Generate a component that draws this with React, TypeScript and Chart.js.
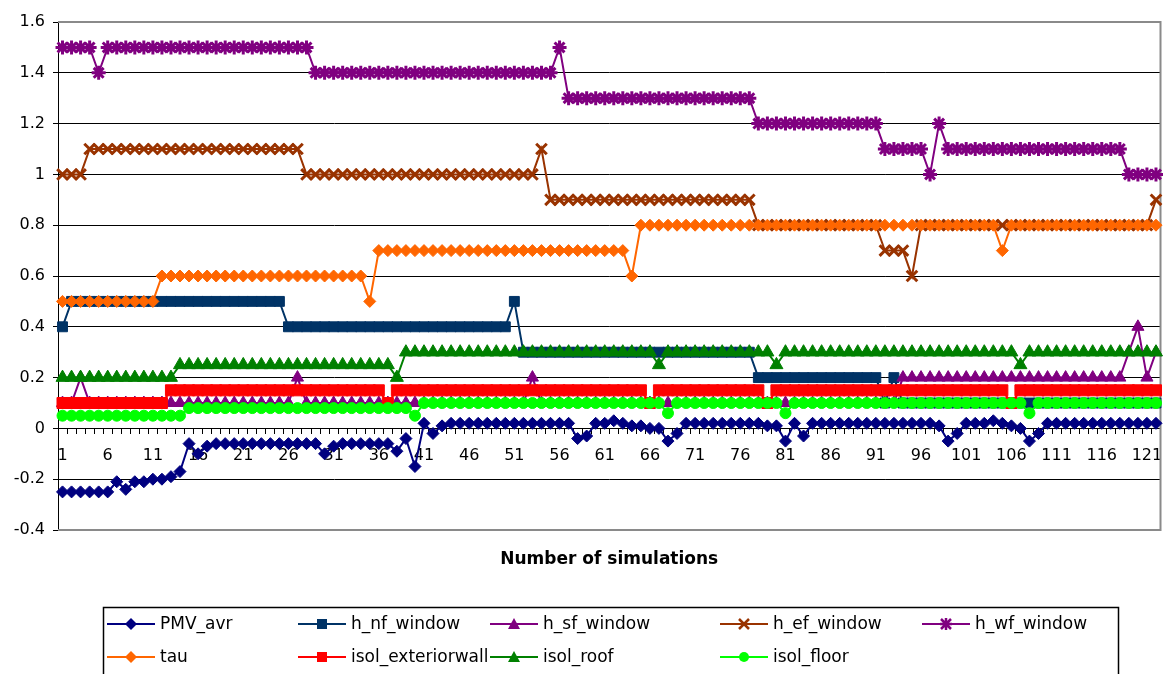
import React, { useEffect, useRef } from 'react';
import { Chart, registerables } from 'chart.js';

Chart.register(...registerables);

// ---------- data ----------
const categories: string[] = Array.from({ length: 122 }, (_, i) => String(i + 1));
const tickLabels: string[] = ['1', '6', '11', '16', '21', '26', '31', '36', '41', '46', '51', '56', '61', '66', '71', '76', '81', '86', '91', '96', '101', '106', '111', '116', '121'];
const yTicks: number[] = [-0.4, -0.2, 0, 0.2, 0.4, 0.6, 0.8, 1, 1.2, 1.4, 1.6];

const PMV_avr: number[] = [
  -0.25, -0.25, -0.25, -0.25, -0.25, -0.25, -0.21, -0.24, -0.21, -0.21,
  -0.2, -0.2, -0.19, -0.17, -0.06, -0.1, -0.07, -0.06, -0.06, -0.06,
  -0.06, -0.06, -0.06, -0.06, -0.06, -0.06, -0.06, -0.06, -0.06, -0.1,
  -0.07, -0.06, -0.06, -0.06, -0.06, -0.06, -0.06, -0.09, -0.04, -0.15,
  0.02, -0.02, 0.01, 0.02, 0.02, 0.02, 0.02, 0.02, 0.02, 0.02,
  0.02, 0.02, 0.02, 0.02, 0.02, 0.02, 0.02, -0.04, -0.03, 0.02,
  0.02, 0.03, 0.02, 0.01, 0.01, 0, 0, -0.05, -0.02, 0.02,
  0.02, 0.02, 0.02, 0.02, 0.02, 0.02, 0.02, 0.02, 0.01, 0.01,
  -0.05, 0.02, -0.03, 0.02, 0.02, 0.02, 0.02, 0.02, 0.02, 0.02,
  0.02, 0.02, 0.02, 0.02, 0.02, 0.02, 0.02, 0.01, -0.05, -0.02,
  0.02, 0.02, 0.02, 0.03, 0.02, 0.01, 0, -0.05, -0.02, 0.02,
  0.02, 0.02, 0.02, 0.02, 0.02, 0.02, 0.02, 0.02, 0.02, 0.02,
  0.02, 0.02,
];

const h_nf_window: number[] = [
  0.4, 0.5, 0.5, 0.5, 0.5, 0.5, 0.5, 0.5, 0.5, 0.5,
  0.5, 0.5, 0.5, 0.5, 0.5, 0.5, 0.5, 0.5, 0.5, 0.5,
  0.5, 0.5, 0.5, 0.5, 0.5, 0.4, 0.4, 0.4, 0.4, 0.4,
  0.4, 0.4, 0.4, 0.4, 0.4, 0.4, 0.4, 0.4, 0.4, 0.4,
  0.4, 0.4, 0.4, 0.4, 0.4, 0.4, 0.4, 0.4, 0.4, 0.4,
  0.5, 0.3, 0.3, 0.3, 0.3, 0.3, 0.3, 0.3, 0.3, 0.3,
  0.3, 0.3, 0.3, 0.3, 0.3, 0.3, 0.3, 0.3, 0.3, 0.3,
  0.3, 0.3, 0.3, 0.3, 0.3, 0.3, 0.3, 0.2, 0.2, 0.2,
  0.2, 0.2, 0.2, 0.2, 0.2, 0.2, 0.2, 0.2, 0.2, 0.2,
  0.2, 0.1, 0.2, 0.1, 0.1, 0.1, 0.1, 0.1, 0.1, 0.1,
  0.1, 0.1, 0.1, 0.1, 0.1, 0.1, 0.1, 0.1, 0.1, 0.1,
  0.1, 0.1, 0.1, 0.1, 0.1, 0.1, 0.1, 0.1, 0.1, 0.1,
  0.1, 0.1,
];

const h_sf_window: number[] = [
  0.1, 0.1, 0.2, 0.1, 0.1, 0.1, 0.1, 0.1, 0.1, 0.1,
  0.1, 0.1, 0.1, 0.1, 0.1, 0.1, 0.1, 0.1, 0.1, 0.1,
  0.1, 0.1, 0.1, 0.1, 0.1, 0.1, 0.2, 0.1, 0.1, 0.1,
  0.1, 0.1, 0.1, 0.1, 0.1, 0.1, 0.1, 0.1, 0.1, 0.1,
  0.1, 0.1, 0.1, 0.1, 0.1, 0.1, 0.1, 0.1, 0.1, 0.1,
  0.1, 0.1, 0.2, 0.1, 0.1, 0.1, 0.1, 0.1, 0.1, 0.1,
  0.1, 0.1, 0.1, 0.1, 0.1, 0.1, 0.1, 0.1, 0.1, 0.1,
  0.1, 0.1, 0.1, 0.1, 0.1, 0.1, 0.1, 0.1, 0.1, 0.1,
  0.1, 0.1, 0.1, 0.1, 0.1, 0.1, 0.1, 0.1, 0.1, 0.1,
  0.1, 0.1, 0.1, 0.2, 0.2, 0.2, 0.2, 0.2, 0.2, 0.2,
  0.2, 0.2, 0.2, 0.2, 0.2, 0.2, 0.2, 0.2, 0.2, 0.2,
  0.2, 0.2, 0.2, 0.2, 0.2, 0.2, 0.2, 0.2, 0.3, 0.4,
  0.2, 0.3,
];

const h_ef_window: number[] = [
  1, 1, 1, 1.1, 1.1, 1.1, 1.1, 1.1, 1.1, 1.1,
  1.1, 1.1, 1.1, 1.1, 1.1, 1.1, 1.1, 1.1, 1.1, 1.1,
  1.1, 1.1, 1.1, 1.1, 1.1, 1.1, 1.1, 1, 1, 1,
  1, 1, 1, 1, 1, 1, 1, 1, 1, 1,
  1, 1, 1, 1, 1, 1, 1, 1, 1, 1,
  1, 1, 1, 1.1, 0.9, 0.9, 0.9, 0.9, 0.9, 0.9,
  0.9, 0.9, 0.9, 0.9, 0.9, 0.9, 0.9, 0.9, 0.9, 0.9,
  0.9, 0.9, 0.9, 0.9, 0.9, 0.9, 0.9, 0.8, 0.8, 0.8,
  0.8, 0.8, 0.8, 0.8, 0.8, 0.8, 0.8, 0.8, 0.8, 0.8,
  0.8, 0.7, 0.7, 0.7, 0.6, 0.8, 0.8, 0.8, 0.8, 0.8,
  0.8, 0.8, 0.8, 0.8, 0.8, 0.8, 0.8, 0.8, 0.8, 0.8,
  0.8, 0.8, 0.8, 0.8, 0.8, 0.8, 0.8, 0.8, 0.8, 0.8,
  0.8, 0.9,
];

const h_wf_window: number[] = [
  1.5, 1.5, 1.5, 1.5, 1.4, 1.5, 1.5, 1.5, 1.5, 1.5,
  1.5, 1.5, 1.5, 1.5, 1.5, 1.5, 1.5, 1.5, 1.5, 1.5,
  1.5, 1.5, 1.5, 1.5, 1.5, 1.5, 1.5, 1.5, 1.4, 1.4,
  1.4, 1.4, 1.4, 1.4, 1.4, 1.4, 1.4, 1.4, 1.4, 1.4,
  1.4, 1.4, 1.4, 1.4, 1.4, 1.4, 1.4, 1.4, 1.4, 1.4,
  1.4, 1.4, 1.4, 1.4, 1.4, 1.5, 1.3, 1.3, 1.3, 1.3,
  1.3, 1.3, 1.3, 1.3, 1.3, 1.3, 1.3, 1.3, 1.3, 1.3,
  1.3, 1.3, 1.3, 1.3, 1.3, 1.3, 1.3, 1.2, 1.2, 1.2,
  1.2, 1.2, 1.2, 1.2, 1.2, 1.2, 1.2, 1.2, 1.2, 1.2,
  1.2, 1.1, 1.1, 1.1, 1.1, 1.1, 1.0, 1.2, 1.1, 1.1,
  1.1, 1.1, 1.1, 1.1, 1.1, 1.1, 1.1, 1.1, 1.1, 1.1,
  1.1, 1.1, 1.1, 1.1, 1.1, 1.1, 1.1, 1.1, 1.0, 1.0,
  1.0, 1.0,
];

const tau: number[] = [
  0.5, 0.5, 0.5, 0.5, 0.5, 0.5, 0.5, 0.5, 0.5, 0.5,
  0.5, 0.6, 0.6, 0.6, 0.6, 0.6, 0.6, 0.6, 0.6, 0.6,
  0.6, 0.6, 0.6, 0.6, 0.6, 0.6, 0.6, 0.6, 0.6, 0.6,
  0.6, 0.6, 0.6, 0.6, 0.5, 0.7, 0.7, 0.7, 0.7, 0.7,
  0.7, 0.7, 0.7, 0.7, 0.7, 0.7, 0.7, 0.7, 0.7, 0.7,
  0.7, 0.7, 0.7, 0.7, 0.7, 0.7, 0.7, 0.7, 0.7, 0.7,
  0.7, 0.7, 0.7, 0.6, 0.8, 0.8, 0.8, 0.8, 0.8, 0.8,
  0.8, 0.8, 0.8, 0.8, 0.8, 0.8, 0.8, 0.8, 0.8, 0.8,
  0.8, 0.8, 0.8, 0.8, 0.8, 0.8, 0.8, 0.8, 0.8, 0.8,
  0.8, 0.8, 0.8, 0.8, 0.8, 0.8, 0.8, 0.8, 0.8, 0.8,
  0.8, 0.8, 0.8, 0.8, 0.7, 0.8, 0.8, 0.8, 0.8, 0.8,
  0.8, 0.8, 0.8, 0.8, 0.8, 0.8, 0.8, 0.8, 0.8, 0.8,
  0.8, 0.8,
];

const isol_exteriorwall: number[] = [
  0.1, 0.1, 0.1, 0.1, 0.1, 0.1, 0.1, 0.1, 0.1, 0.1,
  0.1, 0.1, 0.15, 0.15, 0.15, 0.15, 0.15, 0.15, 0.15, 0.15,
  0.15, 0.15, 0.15, 0.15, 0.15, 0.15, 0.15, 0.15, 0.15, 0.15,
  0.15, 0.15, 0.15, 0.15, 0.15, 0.15, 0.1, 0.15, 0.15, 0.15,
  0.15, 0.15, 0.15, 0.15, 0.15, 0.15, 0.15, 0.15, 0.15, 0.15,
  0.15, 0.15, 0.15, 0.15, 0.15, 0.15, 0.15, 0.15, 0.15, 0.15,
  0.15, 0.15, 0.15, 0.15, 0.15, 0.1, 0.15, 0.15, 0.15, 0.15,
  0.15, 0.15, 0.15, 0.15, 0.15, 0.15, 0.15, 0.15, 0.1, 0.15,
  0.15, 0.15, 0.15, 0.15, 0.15, 0.15, 0.15, 0.15, 0.15, 0.15,
  0.15, 0.15, 0.15, 0.15, 0.15, 0.15, 0.15, 0.15, 0.15, 0.15,
  0.15, 0.15, 0.15, 0.15, 0.15, 0.1, 0.15, 0.15, 0.15, 0.15,
  0.15, 0.15, 0.15, 0.15, 0.15, 0.15, 0.15, 0.15, 0.15, 0.15,
  0.15, 0.15,
];

const isol_roof: number[] = [
  0.2, 0.2, 0.2, 0.2, 0.2, 0.2, 0.2, 0.2, 0.2, 0.2,
  0.2, 0.2, 0.2, 0.25, 0.25, 0.25, 0.25, 0.25, 0.25, 0.25,
  0.25, 0.25, 0.25, 0.25, 0.25, 0.25, 0.25, 0.25, 0.25, 0.25,
  0.25, 0.25, 0.25, 0.25, 0.25, 0.25, 0.25, 0.2, 0.3, 0.3,
  0.3, 0.3, 0.3, 0.3, 0.3, 0.3, 0.3, 0.3, 0.3, 0.3,
  0.3, 0.3, 0.3, 0.3, 0.3, 0.3, 0.3, 0.3, 0.3, 0.3,
  0.3, 0.3, 0.3, 0.3, 0.3, 0.3, 0.25, 0.3, 0.3, 0.3,
  0.3, 0.3, 0.3, 0.3, 0.3, 0.3, 0.3, 0.3, 0.3, 0.25,
  0.3, 0.3, 0.3, 0.3, 0.3, 0.3, 0.3, 0.3, 0.3, 0.3,
  0.3, 0.3, 0.3, 0.3, 0.3, 0.3, 0.3, 0.3, 0.3, 0.3,
  0.3, 0.3, 0.3, 0.3, 0.3, 0.3, 0.25, 0.3, 0.3, 0.3,
  0.3, 0.3, 0.3, 0.3, 0.3, 0.3, 0.3, 0.3, 0.3, 0.3,
  0.3, 0.3,
];

const isol_floor: number[] = [
  0.05, 0.05, 0.05, 0.05, 0.05, 0.05, 0.05, 0.05, 0.05, 0.05,
  0.05, 0.05, 0.05, 0.05, 0.08, 0.08, 0.08, 0.08, 0.08, 0.08,
  0.08, 0.08, 0.08, 0.08, 0.08, 0.08, 0.08, 0.08, 0.08, 0.08,
  0.08, 0.08, 0.08, 0.08, 0.08, 0.08, 0.08, 0.08, 0.08, 0.05,
  0.1, 0.1, 0.1, 0.1, 0.1, 0.1, 0.1, 0.1, 0.1, 0.1,
  0.1, 0.1, 0.1, 0.1, 0.1, 0.1, 0.1, 0.1, 0.1, 0.1,
  0.1, 0.1, 0.1, 0.1, 0.1, 0.1, 0.1, 0.06, 0.1, 0.1,
  0.1, 0.1, 0.1, 0.1, 0.1, 0.1, 0.1, 0.1, 0.1, 0.1,
  0.06, 0.1, 0.1, 0.1, 0.1, 0.1, 0.1, 0.1, 0.1, 0.1,
  0.1, 0.1, 0.1, 0.1, 0.1, 0.1, 0.1, 0.1, 0.1, 0.1,
  0.1, 0.1, 0.1, 0.1, 0.1, 0.1, 0.1, 0.06, 0.1, 0.1,
  0.1, 0.1, 0.1, 0.1, 0.1, 0.1, 0.1, 0.1, 0.1, 0.1,
  0.1, 0.1,
];

const seriesNames: string[] = ['PMV_avr', 'h_nf_window', 'h_sf_window', 'h_ef_window', 'h_wf_window', 'tau', 'isol_exteriorwall', 'isol_roof', 'isol_floor'];
const seriesColors: string[] = ['#000080', '#003366', '#800080', '#993300', '#800080', '#FF6600', '#FF0000', '#008000', '#00FF00'];
const seriesMarkers: string[] = ['diamond', 'square', 'triangle', 'cross', 'star', 'diamond', 'bigsquare', 'bigtriangle', 'circle'];
const seriesValues: number[][] = [PMV_avr, h_nf_window, h_sf_window, h_ef_window, h_wf_window, tau, isol_exteriorwall, isol_roof, isol_floor];

const xTitle = 'Number of simulations';
const FONT = 'DejaVu Sans';

// ---------- styling helpers ----------
const chartStyle: Record<string, { pointStyle: string; radius: number; bw: number }> = {
  diamond: { pointStyle: 'rectRot', radius: 6, bw: 1 },
  square: { pointStyle: 'rect', radius: 7, bw: 1 },
  bigsquare: { pointStyle: 'rect', radius: 7.8, bw: 1 },
  triangle: { pointStyle: 'triangle', radius: 7, bw: 1 },
  bigtriangle: { pointStyle: 'triangle', radius: 7.5, bw: 1 },
  cross: { pointStyle: 'crossRot', radius: 7.5, bw: 3 },
  star: { pointStyle: 'star', radius: 7, bw: 3 },
  circle: { pointStyle: 'circle', radius: 5.5, bw: 1 },
};

function drawMarker(ctx: CanvasRenderingContext2D, kind: string, x: number, y: number, color: string) {
  ctx.save();
  ctx.fillStyle = color;
  ctx.strokeStyle = color;
  ctx.beginPath();
  if (kind === 'diamond') {
    ctx.moveTo(x, y - 6); ctx.lineTo(x + 6, y); ctx.lineTo(x, y + 6); ctx.lineTo(x - 6, y); ctx.closePath(); ctx.fill();
  } else if (kind === 'square' || kind === 'bigsquare') {
    ctx.rect(x - 5, y - 5, 10, 10); ctx.fill();
  } else if (kind === 'triangle' || kind === 'bigtriangle') {
    ctx.moveTo(x, y - 6); ctx.lineTo(x + 6, y + 5); ctx.lineTo(x - 6, y + 5); ctx.closePath(); ctx.fill();
  } else if (kind === 'circle') {
    ctx.arc(x, y, 5, 0, Math.PI * 2); ctx.fill();
  } else if (kind === 'cross') {
    ctx.lineWidth = 2.5;
    ctx.moveTo(x - 5, y - 5); ctx.lineTo(x + 5, y + 5); ctx.moveTo(x + 5, y - 5); ctx.lineTo(x - 5, y + 5); ctx.stroke();
  } else if (kind === 'star') {
    ctx.lineWidth = 2.5;
    ctx.moveTo(x - 5, y - 5); ctx.lineTo(x + 5, y + 5); ctx.moveTo(x + 5, y - 5); ctx.lineTo(x - 5, y + 5);
    ctx.moveTo(x, y - 6); ctx.lineTo(x, y + 6); ctx.moveTo(x - 6, y); ctx.lineTo(x + 6, y); ctx.stroke();
  }
  ctx.restore();
}

const legendCols = [107, 298, 490, 720, 922];
const legendRows = [624, 657];

const decorPlugin = {
  id: 'decor',
  beforeDatasetsDraw(chart: any) {
    const { ctx, chartArea: a } = chart;
    ctx.save();
    ctx.strokeStyle = '#8a8a8a';
    ctx.lineWidth = 2;
    ctx.beginPath();
    ctx.moveTo(a.left, a.top);
    ctx.lineTo(a.right, a.top);
    ctx.lineTo(a.right, a.bottom);
    ctx.lineTo(a.left, a.bottom);
    ctx.stroke();
    ctx.restore();
  },
  afterDraw(chart: any) {
    const { ctx, chartArea: a } = chart;
    ctx.save();
    ctx.fillStyle = '#000';
    ctx.font = `bold 17px "${FONT}"`;
    ctx.textAlign = 'center';
    ctx.textBaseline = 'middle';
    ctx.fillText(xTitle, (a.left + a.right) / 2, 560);
    ctx.strokeStyle = '#000';
    ctx.lineWidth = 1.5;
    ctx.strokeRect(103.5, 607.5, 1015, 90);
    ctx.font = `17px "${FONT}"`;
    ctx.textAlign = 'left';
    seriesNames.forEach((name, i) => {
      const col = i < 5 ? i : i - 5;
      const row = i < 5 ? 0 : 1;
      const x = legendCols[col];
      const y = legendRows[row];
      ctx.strokeStyle = seriesColors[i];
      ctx.lineWidth = 2;
      ctx.beginPath();
      ctx.moveTo(x, y);
      ctx.lineTo(x + 48, y);
      ctx.stroke();
      drawMarker(ctx, seriesMarkers[i], x + 24, y, seriesColors[i]);
      ctx.fillStyle = '#000';
      ctx.fillText(name, x + 53, y + 1);
    });
    ctx.restore();
  },
};

export default function App() {
  const ref = useRef<HTMLCanvasElement | null>(null);

  useEffect(() => {
    document.body.style.margin = '0';
    const canvas = ref.current;
    if (!canvas) return;
    const n = seriesValues.length;
    const datasets = seriesValues.map((vals, i) => {
      const st = chartStyle[seriesMarkers[i]];
      return {
        label: seriesNames[i],
        data: vals,
        borderColor: seriesColors[i],
        backgroundColor: seriesColors[i],
        pointBackgroundColor: seriesColors[i],
        pointBorderColor: seriesColors[i],
        pointStyle: st.pointStyle,
        pointRadius: st.radius,
        pointBorderWidth: st.bw,
        borderWidth: 2,
        tension: 0,
        order: n - i,
      };
    });

    const chart = new Chart(canvas, {
      type: 'line',
      data: { labels: categories, datasets: datasets as any },
      options: {
        animation: false,
        responsive: false,
        maintainAspectRatio: false,
        events: [],
        layout: { padding: { left: 0, top: 22, right: 2, bottom: 144 } },
        plugins: {
          legend: { display: false },
          tooltip: { enabled: false },
          title: { display: false },
        },
        scales: {
          x: {
            type: 'category',
            position: { y: 0 } as any,
            offset: true,
            grid: {
              display: true,
              drawOnChartArea: false,
              drawTicks: true,
              tickLength: 5,
              color: '#000',
              offset: true,
            },
            border: { display: true, color: '#000', width: 1 },
            ticks: {
              autoSkip: false,
              maxRotation: 0,
              minRotation: 0,
              padding: 13,
              color: '#000',
              font: { family: FONT, size: 16 },
              callback: (_v: any, idx: number) => (tickLabels.includes(categories[idx]) ? categories[idx] : ''),
            },
          },
          y: {
            type: 'linear',
            min: yTicks[0],
            max: yTicks[yTicks.length - 1],
            afterFit: (scale: any) => { scale.width = 58; },
            afterBuildTicks: (scale: any) => { scale.ticks = yTicks.map((v) => ({ value: v })); },
            grid: { color: '#000', lineWidth: 1, tickLength: 5, drawTicks: true },
            border: { display: true, color: '#000', width: 1 },
            ticks: {
              padding: 8,
              color: '#000',
              font: { family: FONT, size: 16 },
              callback: (v: any) => String(Number(Number(v).toFixed(1))),
            },
          },
        },
      },
      plugins: [decorPlugin],
    });
    return () => chart.destroy();
  }, []);

  return (
    <div style={{ width: 1171, height: 674, background: '#fff', overflow: 'hidden' }}>
      <canvas ref={ref} width={1171} height={674} style={{ display: 'block' }} />
    </div>
  );
}
